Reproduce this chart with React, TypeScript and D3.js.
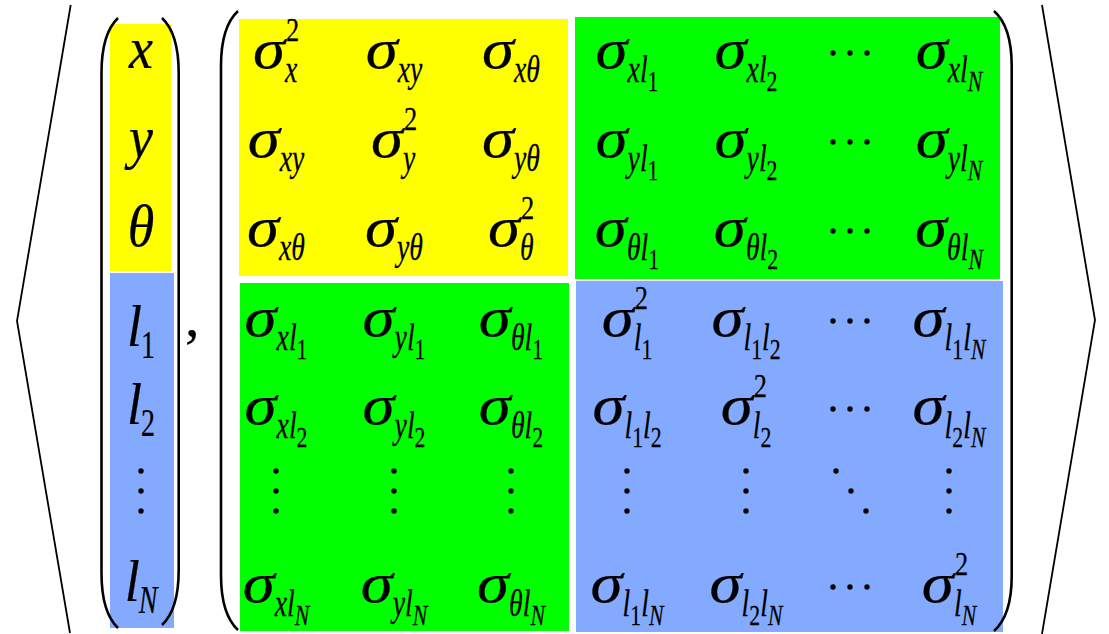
import React from "react";
import * as d3 from "d3";

const W = 1109;
const H = 634;
const FAMILY = "Liberation Serif";

// ---- data: state vector (base letter, subscript) ----
const vectorBase = ["x", "y", "θ", "l", "l", "⋮", "l"];
const vectorSub = ["", "", "", "1", "2", "", "N"];

// ---- data: covariance matrix entries (σ subscript, "^2" = squared, "_" = nested subscript) ----
const covRow1 = ["x^2", "xy", "xθ", "xl_1", "xl_2", "⋯", "xl_N"];
const covRow2 = ["xy", "y^2", "yθ", "yl_1", "yl_2", "⋯", "yl_N"];
const covRow3 = ["xθ", "yθ", "θ^2", "θl_1", "θl_2", "⋯", "θl_N"];
const covRow4 = ["xl_1", "yl_1", "θl_1", "l_1^2", "l_1l_2", "⋯", "l_1l_N"];
const covRow5 = ["xl_2", "yl_2", "θl_2", "l_1l_2", "l_2^2", "⋯", "l_2l_N"];
const covRow6 = ["⋮", "⋮", "⋮", "⋮", "⋮", "⋱", "⋮"];
const covRow7 = ["xl_N", "yl_N", "θl_N", "l_1l_N", "l_2l_N", "⋯", "l_N^2"];
const covRows = [covRow1, covRow2, covRow3, covRow4, covRow5, covRow6, covRow7];

// block colours
const COL_POSE = "#ffff00";
const COL_CROSS = "#00ff00";
const COL_MAP = "#84aaff";

// ---- layout ----
const colCenters = [276, 394, 511, 627, 746, 850, 949];
const rowBaselines = [68, 157, 246, 336, 424, 491, 602];
const vecBaselines = [68, 157, 246, 346, 424, 491, 601];
const VEC_X = 141;

type Tok = { ch: string; lvl: number };
function parseSub(s: string): Tok[] {
  const out: Tok[] = [];
  const a = Array.from(s);
  for (let i = 0; i < a.length; i++) {
    if (a[i] === "_") {
      out.push({ ch: a[i + 1], lvl: 2 });
      i++;
    } else out.push({ ch: a[i], lvl: 1 });
  }
  return out;
}
const isDigit = (c: string) => /[0-9]/.test(c);

const MP = { baseF: 58, baseSx: 1.12, subF: 37, subSx: 0.75, subDx: 0, subDy: 14, ssF: 29, ssDy: 9, supF: 33, supSx: 0.8, supDx: 1, supDy: -27 };
const VP = { baseF: 60, baseSx: 0.9, subF: 40, subSx: 0.7, subDx: -1, subDy: 12, ssF: 28, ssDy: 9, supF: 32, supSx: 0.85, supDx: 2, supDy: -27 };
const INK = 0.25;

let ctx: CanvasRenderingContext2D | null = null;
function measure(txt: string, size: number, italic: boolean) {
  if (!ctx) ctx = document.createElement("canvas").getContext("2d");
  if (!ctx) return size * 0.5 * txt.length;
  ctx.font = `${italic ? "italic " : ""}${size}px "${FAMILY}"`;
  return ctx.measureText(txt).width;
}

const txtStyle = (size: number, italic: boolean): React.CSSProperties => ({
  fontFamily: FAMILY,
  fontStyle: italic ? "italic" : "normal",
  fontSize: size,
});

function Term({ base, sub, sup, cx, by, P }: { base: string; sub: string; sup: string; cx: number; by: number; P: any }) {
  const w = measure(base, P.baseF, true) * P.baseSx;
  const toks = parseSub(sub);
  const subW = toks.reduce((a, t) => a + measure(t.ch, t.lvl === 2 ? P.ssF : P.subF, !isDigit(t.ch)), 0) * P.subSx;
  const supW = sup ? measure(sup, P.supF, false) * P.supSx : 0;
  const total = w + Math.max(sub ? subW + P.subDx : 0, sup ? supW + P.supDx : 0);
  const x0 = cx - total / 2;
  let lvl = 1;
  return (
    <g transform={`translate(${x0},${by})`} fill="#000" stroke="#000" strokeWidth={INK}>
      <text transform={`scale(${P.baseSx},1)`} style={txtStyle(P.baseF, true)}>
        {base}
      </text>
      {sub ? (
        <text transform={`translate(${w + P.subDx},${P.subDy}) scale(${P.subSx},1)`} style={txtStyle(P.subF, true)}>
          {toks.map((t, i) => {
            let dy: number | undefined = undefined;
            if (t.lvl !== lvl) {
              dy = t.lvl === 2 ? P.ssDy : -P.ssDy;
              lvl = t.lvl;
            }
            return (
              <tspan key={i} dy={dy} style={txtStyle(t.lvl === 2 ? P.ssF : P.subF, !isDigit(t.ch))}>
                {t.ch}
              </tspan>
            );
          })}
        </text>
      ) : null}
      {sup ? (
        <text transform={`translate(${w + P.supDx},${P.supDy}) scale(${P.supSx},1)`} style={txtStyle(P.supF, false)}>
          {sup}
        </text>
      ) : null}
    </g>
  );
}

function Dots({ kind, cx, cy }: { kind: string; cx: number; cy: number }) {
  let pts: [number, number][] = [];
  if (kind === "⋯") pts = [[-17, 0], [0, 0], [17, 0]];
  else if (kind === "⋮") pts = [[0, -20], [0, 0], [0, 20]];
  else pts = [[-15, -20], [0, 0], [15, 20]];
  return (
    <g>
      {pts.map((d, i) => (
        <circle key={i} cx={cx + d[0]} cy={cy + d[1]} r={2.7} fill="#000" />
      ))}
    </g>
  );
}

export default function App() {
  const n = covRows.length;
  const xCol = d3.scaleOrdinal<number, number>().domain(d3.range(n)).range(colCenters);
  const yRow = d3.scaleOrdinal<number, number>().domain(d3.range(n)).range(rowBaselines);
  const yVec = d3.scaleOrdinal<number, number>().domain(d3.range(n)).range(vecBaselines);

  const blocks = [
    { x0: 110, x1: 171, y0: 24, y1: 271, c: COL_POSE },
    { x0: 110, x1: 174, y0: 273, y1: 628, c: COL_MAP },
    { x0: 239, x1: 568, y0: 19, y1: 276, c: COL_POSE },
    { x0: 575, x1: 1000, y0: 17, y1: 279, c: COL_CROSS },
    { x0: 240, x1: 569, y0: 283, y1: 631, c: COL_CROSS },
    { x0: 576, x1: 1003, y0: 281, y1: 632, c: COL_MAP },
  ];

  const line = d3.line<[number, number]>();
  const paren = (xEnd: number, xV: number, yTop: number, yBot: number) => {
    const p = d3.path();
    p.moveTo(xEnd, yTop);
    p.bezierCurveTo(xEnd - (xEnd - xV) * 0.7, yTop + 11, xV, yTop + 30, xV, yTop + 55);
    p.lineTo(xV, yBot - 55);
    p.bezierCurveTo(xV, yBot - 30, xEnd - (xEnd - xV) * 0.7, yBot - 11, xEnd, yBot);
    return p.toString();
  };

  return (
    <svg width={W} height={H} style={{ position: "absolute", left: 0, top: 0, display: "block" }}>
      <rect width={W} height={H} fill="#fff" />
      {blocks.map((b, i) => (
        <rect key={i} x={b.x0} y={b.y0} width={b.x1 - b.x0} height={b.y1 - b.y0} fill={b.c} />
      ))}
      <g fill="none" stroke="#000">
        <path strokeWidth={1.8} d={line([[70.7, 5], [17, 321], [70, 633]]) || ""} />
        <path strokeWidth={1.8} d={line([[1042, 5], [1095, 320], [1042, 634]]) || ""} />
        <path strokeWidth={2.6} d={paren(118, 101.5, 18, 628)} />
        <path strokeWidth={2.6} d={paren(162, 178.7, 18, 625)} />
        <path strokeWidth={2.6} d={paren(238, 221, 11, 630)} />
        <path strokeWidth={2.6} d={paren(994, 1011.7, 11, 631)} />
      </g>

      {/* state vector */}
      {vectorBase.map((b, i) =>
        b === "⋮" ? (
          <Dots key={i} kind="⋮" cx={VEC_X} cy={yVec(i)} />
        ) : (
          <Term key={i} base={b} sub={vectorSub[i]} sup="" cx={VEC_X} by={yVec(i)} P={VP} />
        )
      )}

      <text x={185} y={336} style={txtStyle(58, false)} stroke="#000" strokeWidth={INK}>
        ,
      </text>

      {/* covariance matrix */}
      {covRows.map((row, r) =>
        row.map((cell, c) => {
          const cx = xCol(c);
          const by = yRow(r);
          const k = `${r}-${c}`;
          if (cell === "⋯") return <Dots key={k} kind="⋯" cx={cx} cy={by - 15} />;
          if (cell === "⋮") return <Dots key={k} kind="⋮" cx={cx} cy={by} />;
          if (cell === "⋱") return <Dots key={k} kind="⋱" cx={cx + 1} cy={by} />;
          const parts = cell.split("^");
          return <Term key={k} base="σ" sub={parts[0]} sup={parts[1] || ""} cx={cx} by={by} P={MP} />;
        })
      )}
    </svg>
  );
}
